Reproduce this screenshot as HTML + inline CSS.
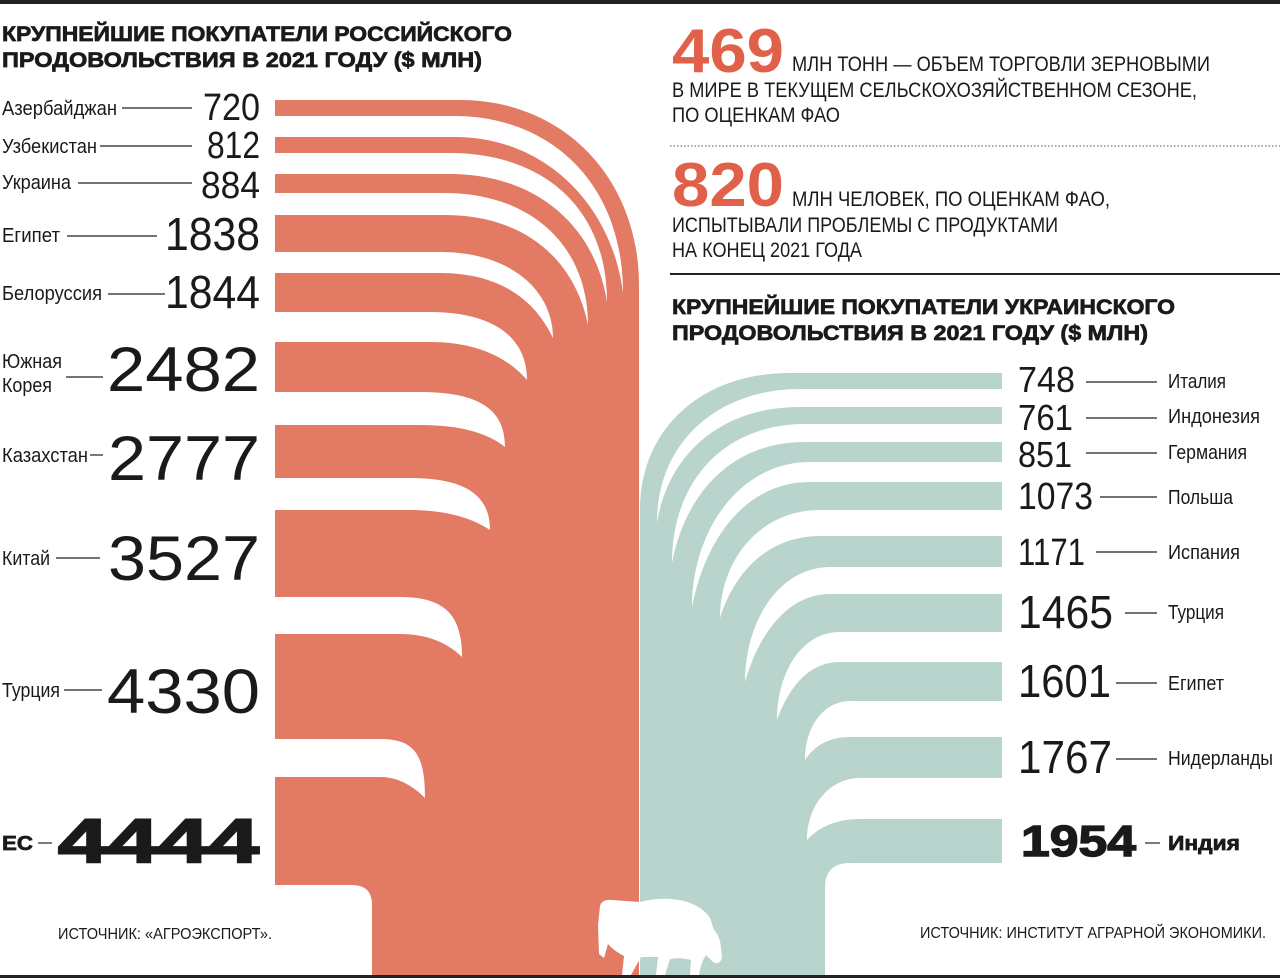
<!DOCTYPE html>
<html><head><meta charset="utf-8"><style>
html,body{margin:0;padding:0;background:#fff;}
svg{display:block;}
text{font-family:"Liberation Sans Narrow","Liberation Sans",sans-serif;fill:#1a1a1a;}
.b{font-family:"Liberation Sans",sans-serif;font-weight:bold;}
.h{stroke:#1a1a1a;stroke-width:0.7;}
.hh{stroke:#1a1a1a;stroke-width:2;}
</style></head><body>
<svg width="1280" height="978" viewBox="0 0 1280 978" xmlns="http://www.w3.org/2000/svg">
<rect x="0" y="0" width="1280" height="4" fill="#222"/>
<rect x="0" y="975" width="1280" height="3" fill="#222"/>

<!-- red shape -->
<path fill="#E27A64" d="M275,100 L460,100 C565,100 639,180 639,285 L639,975 L372,975 L372,905 Q372,885 352,885 L275,885 Z"/>
<g fill="#fff">
<path d="M275,116 L455,116 C547,116 623,180 623,293 C612,205 545,137 455,137 L275,137 Z"/>
<path d="M275,153 L450,153 C540,153 607,205 607,302 C595,225 535,174 450,174 L275,174 Z"/>
<path d="M275,193 L445,193 C530,193 588,245 588,325 C575,260 525,215 445,215 L275,215 Z"/>
<path d="M275,252 L440,252 C510,252 553,290 553,338 C535,300 500,273 440,273 L275,273 Z"/>
<path d="M275,312 L430,312 C490,312 527,335 527,380 C510,360 480,342 430,342 L275,342 Z"/>
<path d="M275,392 L420,392 C480,392 505,410 505,447 C490,435 465,425 420,425 L275,425 Z"/>
<path d="M275,478 L410,478 C465,478 490,495 490,530 C475,520 450,510 410,510 L275,510 Z"/>
<path d="M275,597 L400,597 C445,597 462,615 462,657 C450,645 430,634 400,634 L275,634 Z"/>
<path d="M275,739 L380,739 C415,739 425,755 425,798 C415,788 400,777 380,777 L275,777 Z"/>
</g>

<!-- teal shape -->
<path fill="#B9D3CD" d="M1002,373 L790,373 C700,373 640,430 640,510 L640,975 L825,975 L825,888 Q825,863 850,863 L1002,863 Z"/>
<g fill="#fff">
<path d="M1002,389 L800,389 C720,389 657,440 657,523 C668,455 720,407 800,407 L1002,407 Z"/>
<path d="M1002,424 L805,424 C725,424 672,480 672,563 C685,495 730,442 805,442 L1002,442 Z"/>
<path d="M1002,462 L810,462 C740,462 692,530 692,607 C705,540 745,482 810,482 L1002,482 Z"/>
<path d="M1002,510 L820,510 C760,510 720,560 720,618 C735,570 770,536 820,536 L1002,536 Z"/>
<path d="M1002,567 L830,567 C780,567 745,620 745,682 C760,630 790,594 830,594 L1002,594 Z"/>
<path d="M1002,632 L840,632 C800,632 777,675 777,720 C790,685 810,662 840,662 L1002,662 Z"/>
<path d="M1002,701 L850,701 C825,701 805,725 805,760 C815,745 830,737 850,737 L1002,737 Z"/>
<path d="M1002,778 L860,778 C830,778 807,805 807,840 C818,828 835,819 860,819 L1002,819 Z"/>
</g>

<!-- cow -->
<path fill="#fff" d="M600,906 Q602,899 612,900 L640,902 Q662,896 684,901 Q702,906 710,918 L714,930 Q720,936 721,948 L722,958 Q719,966 713,962 L706,955 Q701,962 699,975 L690,975 L691,960 Q680,957 670,959 L665,975 L656,975 L658,957 L641,957 L631,975 L622,975 L624,956 Q614,951 608,944 L604,958 L599,954 L598,925 Z"/>

<!-- left title -->
<text class="b h" x="2" y="41" font-size="21" textLength="510" lengthAdjust="spacingAndGlyphs">КРУПНЕЙШИЕ ПОКУПАТЕЛИ РОССИЙСКОГО</text>
<text class="b h" x="2" y="67" font-size="21" textLength="480" lengthAdjust="spacingAndGlyphs">ПРОДОВОЛЬСТВИЯ В 2021 ГОДУ ($ МЛН)</text>

<g stroke="#222" stroke-width="1.2">
<line x1="122" y1="108" x2="192" y2="108"/>
<line x1="100" y1="146" x2="192" y2="146"/>
<line x1="78" y1="183" x2="192" y2="183"/>
<line x1="67" y1="236" x2="157" y2="236"/>
<line x1="108" y1="294" x2="165" y2="294"/>
<line x1="66" y1="377" x2="103" y2="377"/>
<line x1="90" y1="455" x2="103" y2="455"/>
<line x1="56" y1="558" x2="100" y2="558"/>
<line x1="64" y1="690" x2="102" y2="690"/>
<line x1="38" y1="843" x2="52" y2="843"/>
</g>
<g font-size="20">
<text x="2" y="115" textLength="115" lengthAdjust="spacingAndGlyphs">Азербайджан</text>
<text x="2" y="153" textLength="95" lengthAdjust="spacingAndGlyphs">Узбекистан</text>
<text x="2" y="189" textLength="69" lengthAdjust="spacingAndGlyphs">Украина</text>
<text x="2" y="242" textLength="58" lengthAdjust="spacingAndGlyphs">Египет</text>
<text x="2" y="300" textLength="100" lengthAdjust="spacingAndGlyphs">Белоруссия</text>
<text x="2" y="368" textLength="60" lengthAdjust="spacingAndGlyphs">Южная</text>
<text x="2" y="392" textLength="50" lengthAdjust="spacingAndGlyphs">Корея</text>
<text x="2" y="462" textLength="86" lengthAdjust="spacingAndGlyphs">Казахстан</text>
<text x="2" y="565" textLength="48" lengthAdjust="spacingAndGlyphs">Китай</text>
<text x="2" y="697" textLength="58" lengthAdjust="spacingAndGlyphs">Турция</text>
</g>
<text class="b h" x="2" y="850" font-size="20" textLength="31" lengthAdjust="spacingAndGlyphs">ЕС</text>
<text x="203" y="120" font-size="38" textLength="57" lengthAdjust="spacingAndGlyphs">720</text>
<text x="207" y="158" font-size="38" textLength="53" lengthAdjust="spacingAndGlyphs">812</text>
<text x="201" y="198" font-size="38" textLength="59" lengthAdjust="spacingAndGlyphs">884</text>
<text x="165" y="250" font-size="46" textLength="95" lengthAdjust="spacingAndGlyphs">1838</text>
<text x="165" y="308" font-size="46" textLength="95" lengthAdjust="spacingAndGlyphs">1844</text>
<text x="107" y="391" font-size="63" textLength="153" lengthAdjust="spacingAndGlyphs">2482</text>
<text x="108" y="480" font-size="63" textLength="152" lengthAdjust="spacingAndGlyphs">2777</text>
<text x="108" y="580" font-size="63" textLength="152" lengthAdjust="spacingAndGlyphs">3527</text>
<text x="107" y="713" font-size="63" textLength="153" lengthAdjust="spacingAndGlyphs">4330</text>
<text class="b hh" x="58" y="862" font-size="62" textLength="201" lengthAdjust="spacingAndGlyphs">4444</text>
<text x="58" y="939" font-size="16" textLength="214" lengthAdjust="spacingAndGlyphs">ИСТОЧНИК: «АГРОЭКСПОРТ».</text>

<!-- right top -->
<text class="b" x="672" y="72" font-size="62" style="fill:#E0604A" textLength="112" lengthAdjust="spacingAndGlyphs">469</text>
<g font-size="21">
<text x="792" y="71" textLength="418" lengthAdjust="spacingAndGlyphs">МЛН ТОНН — ОБЪЕМ ТОРГОВЛИ ЗЕРНОВЫМИ</text>
<text x="672" y="97" textLength="525" lengthAdjust="spacingAndGlyphs">В МИРЕ В ТЕКУЩЕМ СЕЛЬСКОХОЗЯЙСТВЕННОМ СЕЗОНЕ,</text>
<text x="672" y="122" textLength="168" lengthAdjust="spacingAndGlyphs">ПО ОЦЕНКАМ ФАО</text>
</g>
<line x1="670" y1="146" x2="1280" y2="146" stroke="#555" stroke-width="1" stroke-dasharray="1.5,2"/>
<text class="b" x="672" y="206" font-size="62" style="fill:#E0604A" textLength="112" lengthAdjust="spacingAndGlyphs">820</text>
<g font-size="21">
<text x="792" y="206" textLength="318" lengthAdjust="spacingAndGlyphs">МЛН ЧЕЛОВЕК, ПО ОЦЕНКАМ ФАО,</text>
<text x="672" y="232" textLength="386" lengthAdjust="spacingAndGlyphs">ИСПЫТЫВАЛИ ПРОБЛЕМЫ С ПРОДУКТАМИ</text>
<text x="672" y="257" textLength="190" lengthAdjust="spacingAndGlyphs">НА КОНЕЦ 2021 ГОДА</text>
</g>
<line x1="670" y1="274" x2="1280" y2="274" stroke="#222" stroke-width="2"/>
<text class="b h" x="672" y="314" font-size="21" textLength="503" lengthAdjust="spacingAndGlyphs">КРУПНЕЙШИЕ ПОКУПАТЕЛИ УКРАИНСКОГО</text>
<text class="b h" x="672" y="340" font-size="21" textLength="476" lengthAdjust="spacingAndGlyphs">ПРОДОВОЛЬСТВИЯ В 2021 ГОДУ ($ МЛН)</text>

<!-- right labels -->
<g stroke="#222" stroke-width="1.2">
<line x1="1086" y1="382" x2="1157" y2="382"/>
<line x1="1086" y1="418" x2="1157" y2="418"/>
<line x1="1086" y1="453" x2="1157" y2="453"/>
<line x1="1100" y1="497" x2="1157" y2="497"/>
<line x1="1096" y1="552" x2="1157" y2="552"/>
<line x1="1125" y1="613" x2="1157" y2="613"/>
<line x1="1116" y1="683" x2="1157" y2="683"/>
<line x1="1116" y1="759" x2="1157" y2="759"/>
<line x1="1145" y1="843" x2="1160" y2="843"/>
</g>
<text x="1018" y="392" font-size="36" textLength="57" lengthAdjust="spacingAndGlyphs">748</text>
<text x="1018" y="430" font-size="36" textLength="55" lengthAdjust="spacingAndGlyphs">761</text>
<text x="1018" y="467" font-size="36" textLength="54" lengthAdjust="spacingAndGlyphs">851</text>
<text x="1018" y="509" font-size="38" textLength="75" lengthAdjust="spacingAndGlyphs">1073</text>
<text x="1018" y="565" font-size="38" textLength="67" lengthAdjust="spacingAndGlyphs">1171</text>
<text x="1018" y="628" font-size="46" textLength="95" lengthAdjust="spacingAndGlyphs">1465</text>
<text x="1018" y="697" font-size="46" textLength="93" lengthAdjust="spacingAndGlyphs">1601</text>
<text x="1018" y="773" font-size="46" textLength="94" lengthAdjust="spacingAndGlyphs">1767</text>
<text class="b hh" x="1021" y="856" font-size="44" textLength="115" lengthAdjust="spacingAndGlyphs" style="stroke-width:1.4">1954</text>
<g font-size="20">
<text x="1168" y="388" textLength="58" lengthAdjust="spacingAndGlyphs">Италия</text>
<text x="1168" y="423" textLength="92" lengthAdjust="spacingAndGlyphs">Индонезия</text>
<text x="1168" y="459" textLength="79" lengthAdjust="spacingAndGlyphs">Германия</text>
<text x="1168" y="504" textLength="65" lengthAdjust="spacingAndGlyphs">Польша</text>
<text x="1168" y="559" textLength="72" lengthAdjust="spacingAndGlyphs">Испания</text>
<text x="1168" y="619" textLength="56" lengthAdjust="spacingAndGlyphs">Турция</text>
<text x="1168" y="690" textLength="56" lengthAdjust="spacingAndGlyphs">Египет</text>
<text x="1168" y="765" textLength="105" lengthAdjust="spacingAndGlyphs">Нидерланды</text>
</g>
<text class="b h" x="1168" y="850" font-size="20" textLength="72" lengthAdjust="spacingAndGlyphs">Индия</text>
<text x="920" y="938" font-size="16" textLength="346" lengthAdjust="spacingAndGlyphs">ИСТОЧНИК: ИНСТИТУТ АГРАРНОЙ ЭКОНОМИКИ.</text>
</svg>
</body></html>
